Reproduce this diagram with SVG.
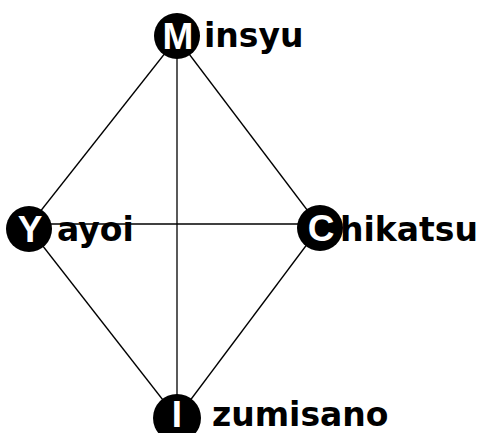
<svg xmlns="http://www.w3.org/2000/svg" width="484" height="433" viewBox="0 0 484 433">
<style>
.edge{stroke:#000;stroke-width:1.3;fill:none}
.dot{fill:#000}
.ini{font-family:"Liberation Sans",Arial,sans-serif;font-weight:bold;font-size:37px;fill:#fff;text-anchor:middle}
.lbl{font-family:"DejaVu Sans",sans-serif;font-weight:bold;font-size:33px;fill:#000}
</style>
<rect width="484" height="433" fill="#fff"/>
<g id="connectors">
<line class="edge" x1="177" y1="38" x2="28" y2="227"/>
<line class="edge" x1="177" y1="38" x2="320" y2="227"/>
<line class="edge" x1="177" y1="38" x2="177" y2="418"/>
<line class="edge" x1="28" y1="224" x2="320" y2="224"/>
<line class="edge" x1="28" y1="227" x2="177" y2="418"/>
<line class="edge" x1="320" y1="227" x2="177" y2="418"/>
</g>
<g id="Minsyu">
<circle class="dot" cx="177" cy="36" r="23"/>
<text class="ini" x="178" y="49">M</text>
<text class="lbl" x="204" y="47">insyu</text>
</g>
<g id="Yayoi">
<circle class="dot" cx="29" cy="229" r="23"/>
<text class="ini" x="30" y="242">Y</text>
<text class="lbl" x="57" y="241">ayoi</text>
</g>
<g id="Chikatsu">
<circle class="dot" cx="320" cy="228" r="23"/>
<text class="ini" x="321" y="241">C</text>
<text class="lbl" x="340" y="241">hikatsu</text>
</g>
<g id="Izumisano">
<circle class="dot" cx="177" cy="418" r="24"/>
<text class="ini" x="177" y="427">I</text>
<text class="lbl" x="212" y="426">zumisano</text>
</g>
</svg>
